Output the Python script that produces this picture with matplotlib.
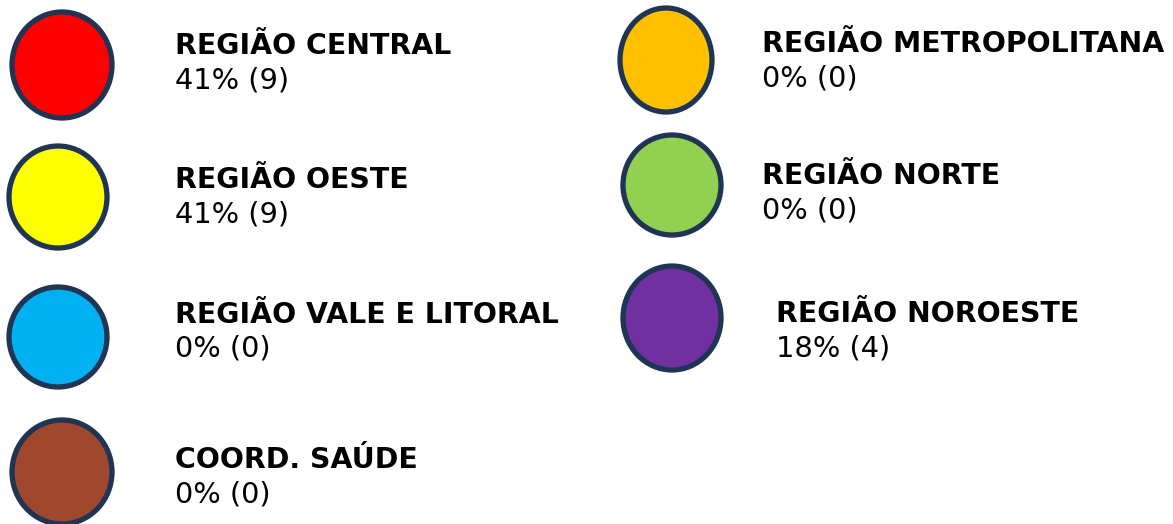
import matplotlib.pyplot as plt
from matplotlib.patches import Ellipse

# legend entries
regions = ['REGIÃO CENTRAL', 'REGIÃO OESTE', 'REGIÃO VALE E LITORAL', 'COORD. SAÚDE',
           'REGIÃO METROPOLITANA', 'REGIÃO NORTE', 'REGIÃO NOROESTE']
percents = [41, 41, 0, 0, 0, 0, 18]
counts = [9, 9, 0, 0, 0, 0, 4]
colors = ['#FF0000', '#FFFF00', '#00B0F0', '#A0482E', '#FFC000', '#92D050', '#7030A0']

# layout (pixel coords): circle centre, circle size, text x, title baseline
circle_xy = [(62, 65), (58, 197), (58, 337), (62, 472), (666, 60), (672, 185), (672, 318)]
circle_wh = [(100, 106), (98, 102), (98, 100), (100, 104), (92, 104), (98, 100), (98, 104)]
text_x = [175, 175, 175, 175, 762, 762, 776]
title_y = [54, 188, 323, 468, 52, 184, 322]

W, H = 1173, 524
fig = plt.figure(figsize=(W / 100, H / 100), dpi=100)
ax = fig.add_axes([0, 0, 1, 1])
ax.set_xlim(0, W)
ax.set_ylim(H, 0)
ax.axis('off')

for i, name in enumerate(regions):
    ax.add_patch(Ellipse(circle_xy[i], circle_wh[i][0], circle_wh[i][1],
                         facecolor=colors[i], edgecolor='#1F3553', linewidth=3.8))
    ax.text(text_x[i], title_y[i], name, fontsize=20.4, fontweight='bold',
            color='black', va='baseline', ha='left')
    ax.text(text_x[i], title_y[i] + 34, f'{percents[i]}% ({counts[i]})', fontsize=20.8,
            color='black', va='baseline', ha='left')

fig.savefig('out.png', dpi=100)
